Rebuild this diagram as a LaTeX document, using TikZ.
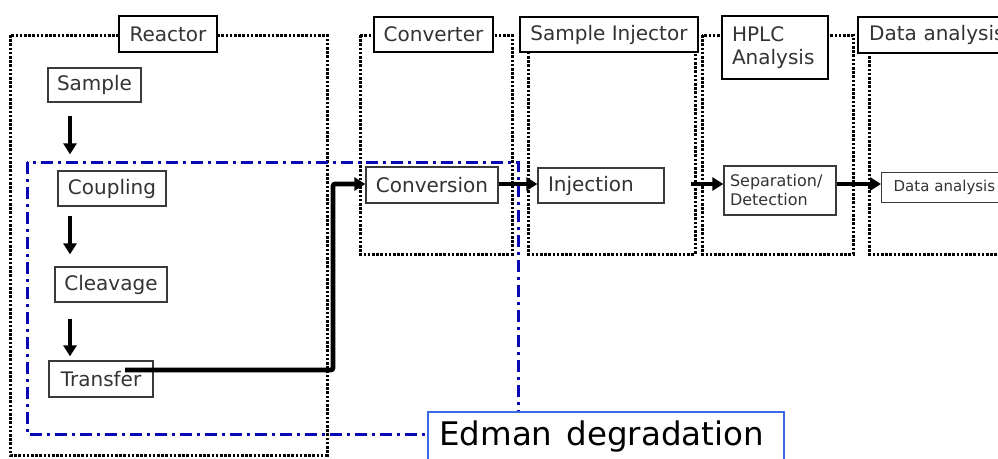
\documentclass[tikz,border=0pt]{standalone}
\usepackage{fontspec}
\setmainfont{DejaVu Sans}
\usetikzlibrary{arrows.meta}
\definecolor{txt}{HTML}{333333}
\definecolor{edgray}{HTML}{3A3A3A}
\definecolor{dashblue}{HTML}{0808B4}
\definecolor{boxblue}{HTML}{3A6AE6}
\tikzset{
  group/.style={draw=black, line width=3pt, dash pattern=on 2.6pt off 1.6pt},
  title/.style={draw=black, line width=2.2pt, fill=white, inner sep=0pt, text=txt, font=\fontsize{20}{23}\selectfont},
  stepbox/.style={draw=edgray, line width=1.3pt, fill=white, inner sep=0pt, text=txt, font=\fontsize{20}{23}\selectfont},
  varr/.style={line width=4pt, -{Triangle[length=11pt,width=13pt]}},
  harr/.style={line width=4.6pt, -{Triangle[length=11pt,width=13pt]}},
  edmanline/.style={draw=dashblue, line width=3pt, dash pattern=on 12pt off 5pt on 3pt off 5pt},
}
\begin{document}
\begin{tikzpicture}[x=1pt,y=-1pt]
\useasboundingbox (0,0) rectangle (998,458);
\clip (0,0) rectangle (998,458);
% dotted groups
\draw[group] (10,35) rectangle (327,455);
\draw[group] (360,35) rectangle (512,254);
\draw[group] (528,35) rectangle (695,254);
\draw[group] (702,35) rectangle (853,254);
\draw[group] (869,35) rectangle (1020,254);
% blue dash-dot frame
\draw[edmanline] (27,162) rectangle (518,434);
% titles
\node[title, minimum width=98pt, minimum height=36pt] (reactor) at (168,34) {Reactor};
\node[title, minimum width=119pt, minimum height=35pt] (converter) at (433.5,34.5) {Converter};
\node[title, minimum width=178pt, minimum height=35pt] (injector) at (609,34.5) {Sample Injector};
\node[title, minimum width=106pt, minimum height=63pt, text width=86pt, align=left, inner xsep=10pt] (hplc) at (775,47.5) {HPLC\\Analysis};
\node[title, anchor=north west, minimum height=36pt, text width=150pt, align=left, inner xsep=11pt] (datatitle) at (857,16) {Data analysis};
% steps
\node[stepbox, minimum width=93pt, minimum height=34pt] (sample) at (94.5,85) {Sample};
\node[stepbox, minimum width=108pt, minimum height=35pt] (coupling) at (112,188.5) {Coupling};
\node[stepbox, minimum width=112pt, minimum height=35pt] (cleavage) at (111,284.5) {Cleavage};
\node[stepbox, minimum width=104pt, minimum height=36pt] (transfer) at (101,379) {Transfer};
\node[stepbox, minimum width=132pt, minimum height=36pt] (conversion) at (432,185) {Conversion};
\node[stepbox, minimum width=126pt, minimum height=35pt, text width=106pt, align=left, inner xsep=10pt] (injection) at (601,185.5) {Injection};
\node[stepbox, minimum width=112pt, minimum height=49pt, text width=100pt, align=left, inner xsep=6pt, font=\fontsize{16}{19}\selectfont] (sepdet) at (780,190.5) {Separation/\\Detection};
\node[stepbox, anchor=north west, minimum height=30pt, text width=120pt, align=left, inner xsep=12pt, font=\fontsize{15}{17}\selectfont] (datainner) at (881,172) {Data analysis};
% vertical arrows
\coordinate (axis) at (70,0);
\draw[varr, shorten <=13pt, shorten >=16pt] (sample.south -| axis) -- (coupling.north -| axis);
\draw[varr, shorten <=9pt, shorten >=12pt] (coupling.south -| axis) -- (cleavage.north -| axis);
\draw[varr, shorten <=16pt, shorten >=4pt] (cleavage.south -| axis) -- (transfer.north -| axis);
% transfer to conversion
\coordinate (tstart) at ([xshift=24pt,yshift=9pt]transfer.center);
\coordinate (hline) at (0,184);
\draw[harr, rounded corners=2pt] (tstart) -- ++(208,0) |- (conversion.west |- hline);
% horizontal arrows
\draw[harr] (conversion.east |- hline) -- (injection.west |- hline);
\draw[harr] ([xshift=26pt]injection.east |- hline) -- (sepdet.west |- hline);
\draw[harr] (sepdet.east |- hline) -- (datainner.west |- hline);
% Edman degradation
\node[draw=boxblue, line width=2pt, fill=white, anchor=north west, minimum width=356pt, minimum height=60pt, inner sep=0pt] (edman) at (427,411) {};
\node[anchor=base west, inner sep=0pt, font=\fontsize{32.5}{36}\selectfont, text=black] (edmantext) at (439,445) {Edman\hspace{14pt}degradation};
\end{tikzpicture}
\end{document}
